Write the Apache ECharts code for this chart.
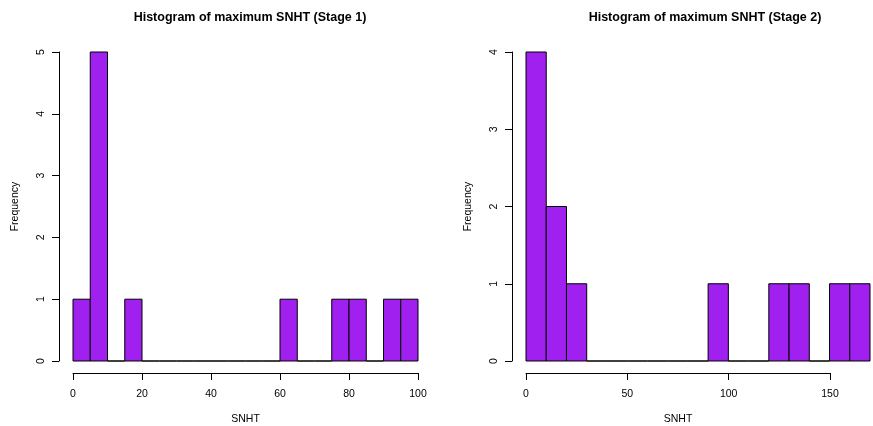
<!DOCTYPE html>
<html><head><meta charset="utf-8">
<script src="https://cdn.jsdelivr.net/npm/echarts@6/dist/echarts.min.js"></script>
<style>html,body{margin:0;padding:0;background:#fff}#c{width:873px;height:426px}</style>
</head><body><div id="c"></div>
<script>
// Stage 1: breaks every 5 from 0 to 100
const breaks1 = [0,5,10,15,20,25,30,35,40,45,50,55,60,65,70,75,80,85,90,95,100];
const counts1 = [1,5,0,1,0,0,0,0,0,0,0,0,1,0,0,1,1,0,1,1];
const xTicks1 = [0,20,40,60,80,100];
const yTicks1 = [0,1,2,3,4,5];
// Stage 2: breaks every 10 from 0 to 170
const breaks2 = [0,10,20,30,40,50,60,70,80,90,100,110,120,130,140,150,160,170];
const counts2 = [4,2,1,0,0,0,0,0,0,1,0,0,1,1,0,1,1];
const xTicks2 = [0,50,100,150];
const yTicks2 = [0,1,2,3,4];
const titles = ['Histogram of maximum SNHT (Stage 1)','Histogram of maximum SNHT (Stage 2)'];
const xName = 'SNHT', yName = 'Frequency';

const FONT = 'Liberation Sans, Arial, Helvetica, sans-serif';
const FILL = '#A020F0';

function binData(br, ct){ return ct.map((c,i)=>[br[i], br[i+1], c]); }

function renderBar(params, api){
  const p0 = api.coord([api.value(0), 0]);
  const p1 = api.coord([api.value(1), api.value(2)]);
  return {
    type: 'rect',
    shape: {x: p0[0], y: p1[1], width: p1[0]-p0[0], height: p0[1]-p1[1]},
    style: {fill: FILL, stroke: '#000', lineWidth: 1}
  };
}

const lblStyle = {color:'#000', fontFamily: FONT, fontSize: 10.5};
function hidden(type, gridIndex, min, max){
  return {type, gridIndex, min, max, show:false};
}
function shownX(gridIndex, ticks){
  return {
    type:'value', gridIndex, min: ticks[0], max: ticks[ticks.length-1], interval: ticks[1]-ticks[0],
    name: xName, nameLocation:'middle', nameGap: 41,
    nameTextStyle: lblStyle,
    axisLine:{show:true, onZero:false, lineStyle:{color:'#000', width:1}},
    axisTick:{show:true, length:7, inside:false, lineStyle:{color:'#000'}},
    axisLabel:{show:true, margin:16, ...lblStyle},
    splitLine:{show:false}
  };
}
function shownY(gridIndex, ticks){
  return {
    type:'value', gridIndex, min: ticks[0], max: ticks[ticks.length-1], interval: ticks[1]-ticks[0],
    name: yName, nameLocation:'middle', nameGap: 38, nameRotate: 90,
    nameTextStyle: lblStyle,
    axisLine:{show:true, onZero:false, lineStyle:{color:'#000', width:1}},
    axisTick:{show:true, length:7, lineStyle:{color:'#000'}},
    axisLabel:{show:true, margin:12, rotate:90, ...lblStyle},
    splitLine:{show:false}
  };
}
const g = (left, width, top, height) => ({left, width, top, height, containLabel:false, outerBoundsMode:'none'});

const chart = echarts.init(document.getElementById('c'), null, {renderer:'canvas'});
chart.setOption({
  animation:false,
  backgroundColor:'#fff',
  title:[
    {text: titles[0], left: 245, top: 6, textAlign:'center',
     textStyle:{fontFamily: FONT, fontSize: 12.5, fontWeight:'bold', color:'#000'}},
    {text: titles[1], left: 700, top: 6, textAlign:'center',
     textStyle:{fontFamily: FONT, fontSize: 12.5, fontWeight:'bold', color:'#000'}}
  ],
  grid:[
    g(73, 345, 52, 309),   // 0 stage 1 bars
    g(73, 345, 52, 321),   // 1 stage 1 x axis
    g(59, 359, 52, 309),   // 2 stage 1 y axis
    g(526, 344, 52, 309),  // 3 stage 2 bars
    g(526, 304, 52, 321),  // 4 stage 2 x axis (0..150)
    g(512, 358, 52, 309)   // 5 stage 2 y axis
  ],
  xAxis:[
    hidden('value', 0, breaks1[0], breaks1[breaks1.length-1]),
    shownX(1, xTicks1),
    hidden('value', 2, 0, 1),
    hidden('value', 3, breaks2[0], breaks2[breaks2.length-1]),
    shownX(4, xTicks2),
    hidden('value', 5, 0, 1)
  ],
  yAxis:[
    hidden('value', 0, yTicks1[0], yTicks1[yTicks1.length-1]),
    hidden('value', 1, 0, 1),
    shownY(2, yTicks1),
    hidden('value', 3, yTicks2[0], yTicks2[yTicks2.length-1]),
    hidden('value', 4, 0, 1),
    shownY(5, yTicks2)
  ],
  series:[
    {type:'custom', xAxisIndex:0, yAxisIndex:0, renderItem: renderBar, data: binData(breaks1, counts1), encode:{x:[0,1], y:2}},
    {type:'custom', xAxisIndex:3, yAxisIndex:3, renderItem: renderBar, data: binData(breaks2, counts2), encode:{x:[0,1], y:2}}
  ]
});
</script></body></html>
